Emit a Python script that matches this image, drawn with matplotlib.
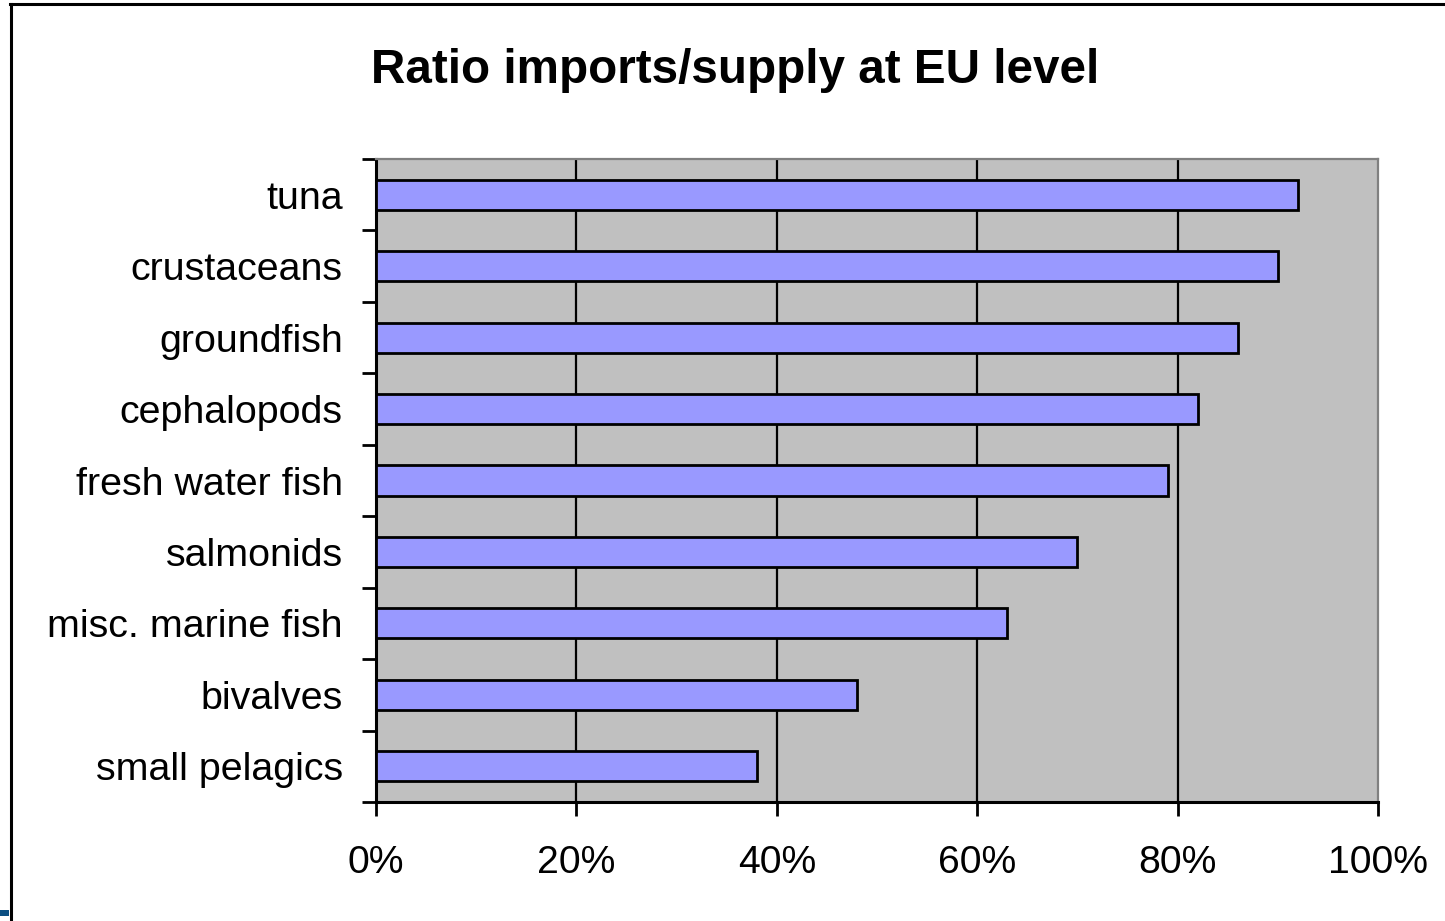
import numpy as np
import matplotlib
matplotlib.use('Agg')
import matplotlib.pyplot as plt
from matplotlib.lines import Line2D
from matplotlib.patches import Rectangle

#########################################################################
#          data                           #
#########################################################################
categories = ['small pelagics', 'bivalves', 'misc. marine fish', 'salmonids',
              'fresh water fish', 'cephalopods', 'groundfish', 'crustaceans', 'tuna']
ratios = [38, 48, 63, 70, 79, 82, 86, 90, 92]	# percent
x_ticks = [0, 20, 40, 60, 80, 100]
x_tick_labels = ['0%', '20%', '40%', '60%', '80%', '100%']
title_txt = 'Ratio imports/supply at EU level'

plt.rcParams['font.family'] = ['Liberation Sans', 'DejaVu Sans']

W, H = 1445, 921
fig = plt.figure(figsize=(W/100.0, H/100.0), dpi=100)
fig.patch.set_facecolor('white')

# axes placed in pixel terms of the reference
ax = fig.add_axes([376.0/W, (H-802.0)/H, (1378.0-376.0)/W, (802.0-159.0)/H])
ax.set_facecolor('#C0C0C0')

ypos = np.arange(len(categories))
ax.barh(ypos, ratios, height=0.42, color='#9999FF', edgecolor='black', linewidth=2.0, zorder=3)

ax.set_xlim(0, 100)
ax.set_ylim(-0.5, len(categories)-0.5)

# x axis
ax.set_xticks(x_ticks)
ax.set_xticklabels(x_tick_labels, fontsize=28.2)
ax.tick_params(axis='x', direction='out', length=10, width=2, pad=21, colors='black')
for xv in x_ticks[1:-1]:
	ax.axvline(xv, color='black', linewidth=1.6, zorder=1)

# y axis: ticks on category boundaries, labels at centres
ax.set_yticks(np.arange(-0.5, len(categories), 1.0))
ax.set_yticklabels([])
ax.set_yticks(ypos, minor=True)
ax.set_yticklabels(categories, minor=True, fontsize=28.4)
ax.tick_params(axis='y', which='major', direction='out', length=10, width=2)
ax.tick_params(axis='y', which='minor', length=0, pad=24)

ax.spines['left'].set_color('black')
ax.spines['left'].set_linewidth(2.2)
ax.spines['bottom'].set_color('black')
ax.spines['bottom'].set_linewidth(2.2)
ax.spines['top'].set_color('#808080')
ax.spines['top'].set_linewidth(1.6)
ax.spines['right'].set_color('#808080')
ax.spines['right'].set_linewidth(1.6)

fig.text(735.0/W, (H-83.0)/H, title_txt, ha='center', va='baseline',
         fontsize=34.3, fontweight='bold')

# outer frame (left and top edges visible in the reference)
fig.add_artist(Line2D([10.5/W, 10.5/W], [0, (H-4.0)/H], transform=fig.transFigure,
                      color='black', linewidth=2.2))
fig.add_artist(Line2D([9.5/W, 1.0], [(H-4.5)/H, (H-4.5)/H], transform=fig.transFigure,
                      color='black', linewidth=2.2))
# small blue fragment at the bottom-left corner
fig.add_artist(Rectangle((0, 5.0/H), 9.0/W, 6.0/H, transform=fig.transFigure,
                         facecolor='#0B4F82', edgecolor='none'))

plt.savefig('out.png', dpi=100)
plt.close()
